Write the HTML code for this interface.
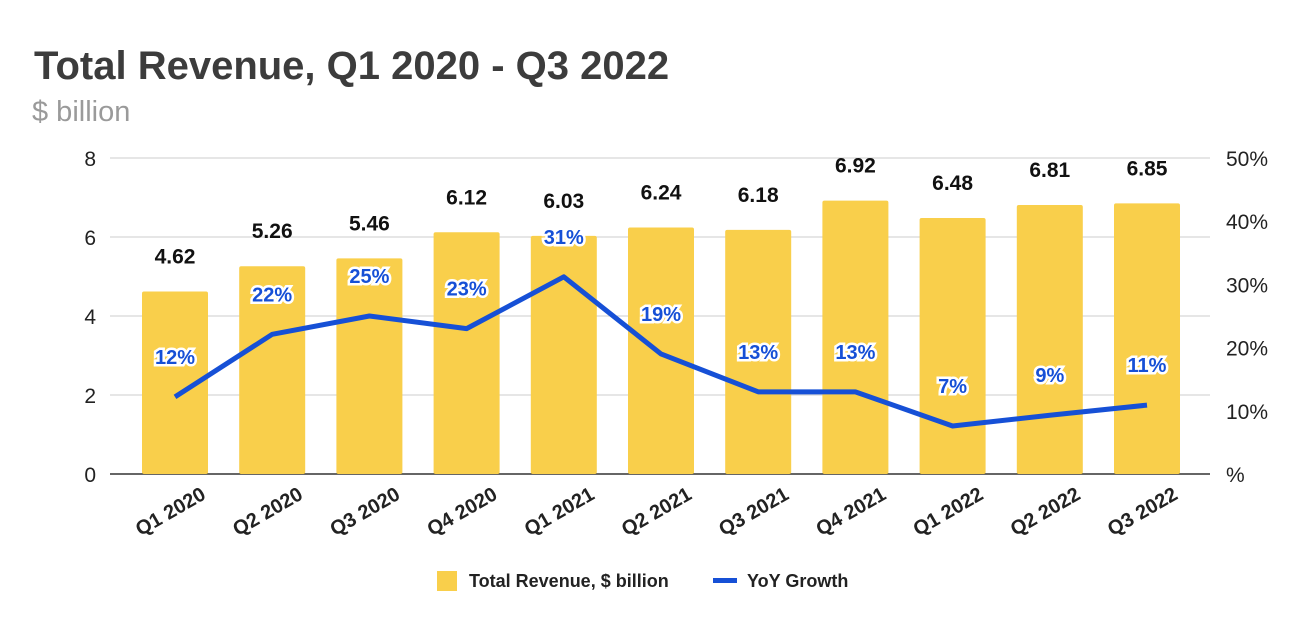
<!DOCTYPE html>
<html><head><meta charset="utf-8"><style>
body{margin:0;background:#fff;font-family:"Liberation Sans",Arial,sans-serif}
</style></head><body>
<svg id="chart" width="1292" height="624" xmlns="http://www.w3.org/2000/svg" font-family="Liberation Sans, Arial, sans-serif">
<rect width="1292" height="624" fill="#fff"/>
<text x="34" y="79" font-size="40" font-weight="bold" fill="#3c3c3c">Total Revenue, Q1 2020 - Q3 2022</text>
<text x="32" y="121" font-size="29" fill="#9a9a9a">$ billion</text>
<g id="grid"></g><g id="bars"></g><g id="line"></g><g id="labels"></g><g id="axes"></g>
<g>
<rect x="437" y="571" width="20" height="20" fill="#f9cf4b"/>
<text x="469" y="587" font-size="18" font-weight="bold" fill="#222">Total Revenue, $ billion</text>
<rect x="713" y="578" width="24" height="5" fill="#1650d6"/>
<text x="747" y="587" font-size="18" font-weight="bold" fill="#222">YoY Growth</text>
</g>
</svg>
<script>
const categories=["Q1 2020","Q2 2020","Q3 2020","Q4 2020","Q1 2021","Q2 2021","Q3 2021","Q4 2021","Q1 2022","Q2 2022","Q3 2022"];
const revenue=[4.62,5.26,5.46,6.12,6.03,6.24,6.18,6.92,6.48,6.81,6.85];
const growth=[12.2,22.1,25,23,31.2,19,13,13,7.6,9.3,10.9];
const growthLabels=["12%","22%","25%","23%","31%","19%","13%","13%","7%","9%","11%"];
const leftTicks=[0,2,4,6,8];
const rightTicks=[0,10,20,30,40,50];
const NS="http://www.w3.org/2000/svg";
const yTop=158,yBottom=474,x0=110,x1=1210;
const yL=v=>yBottom-(v/8)*(yBottom-yTop);
const yR=v=>yBottom-(v/50)*(yBottom-yTop);
const firstC=175,lastC=1147;
const xC=i=>firstC+(lastC-firstC)*i/(categories.length-1);
function mk(tag,attrs,parent,text){const e=document.createElementNS(NS,tag);for(const k in attrs)e.setAttribute(k,attrs[k]);if(text!==undefined)e.textContent=text;document.getElementById(parent).appendChild(e);return e;}
leftTicks.forEach(t=>{
 const l=mk("line",{x1:x0,x2:x1,y1:yL(t),y2:yL(t),stroke:t===0?"#333":"#ccc","stroke-width":t===0?1.5:1},"grid");
 
 
 const tx=mk("text",{x:96,y:yL(t)+8,"font-size":21,"text-anchor":"end",fill:"#222"},"axes",String(t));
 
 
});
rightTicks.forEach(t=>{
 const tx=mk("text",{x:1226,y:yR(t)+8,"font-size":21,fill:"#222"},"axes",t===0?"%":t+"%");
 
 
});
const bw=66;
categories.forEach((c,i)=>{
 const b=mk("rect",{x:xC(i)-bw/2,y:yL(revenue[i]),width:bw,height:yBottom-yL(revenue[i]),fill:"#f9cf4b",rx:2},"bars");
 
 
 const v=mk("text",{x:xC(i),y:yL(revenue[i])-28,"font-size":21,"font-weight":"bold","text-anchor":"middle",fill:"#111"},"labels",revenue[i].toFixed(2));
 
 
 const xl=mk("text",{x:xC(i)+32,y:498,"font-size":20,"font-weight":"bold","text-anchor":"end",fill:"#222",transform:`rotate(-30 ${xC(i)+32} 498)`},"axes",c);
 
 
});
const pts=growth.map((g,i)=>xC(i)+","+yR(g)).join(" ");
const pl=mk("polyline",{points:pts,fill:"none",stroke:"#1650d6","stroke-width":5,"stroke-linejoin":"round"},"line");


growth.forEach((g,i)=>{
 const t=mk("text",{x:xC(i),y:yR(g)-33,"font-size":20,"font-weight":"bold","text-anchor":"middle",fill:"#1650d6",stroke:"#fff","stroke-width":5,"paint-order":"stroke"},"labels",growthLabels[i]);
 
 
});
</script>
</body></html>
